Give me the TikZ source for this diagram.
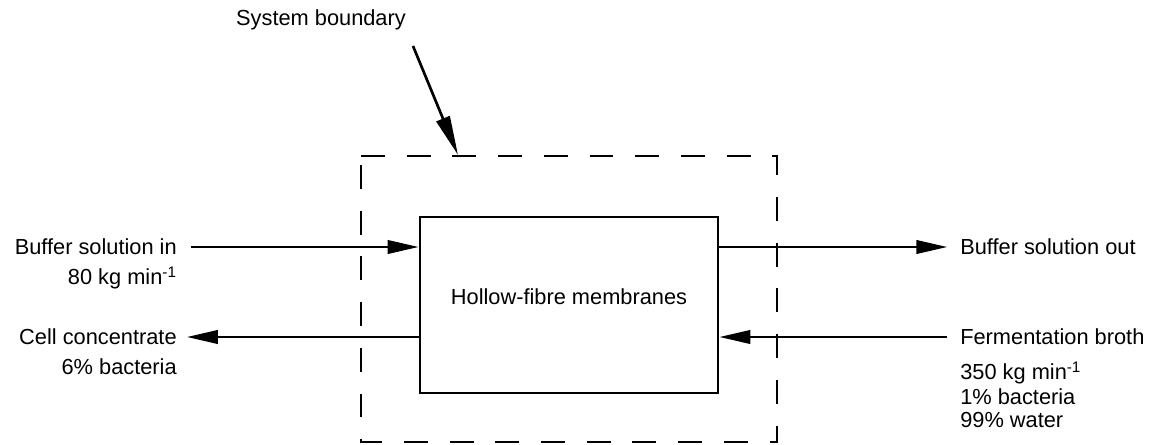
\documentclass[tikz,border=0pt]{standalone}
\usepackage{fontspec}
\setmainfont{Liberation Sans}
\usetikzlibrary{arrows.meta}
\begin{document}
\begin{tikzpicture}[x=0.025cm,y=-0.025cm,
  lbl/.style={font=\fontsize{15.5}{18}\selectfont, inner sep=0pt},
  flow/.style={line width=1.9pt, -{Triangle[length=22pt,width=9.5pt]}},
  bound/.style={line width=1.5pt, dash pattern=on 17pt off 15.5pt},
  unit/.style={draw, line width=1.9pt, minimum width=298*0.025cm, minimum height=176*0.025cm, inner sep=0pt}]
\useasboundingbox (0,0) rectangle (1161,445);
% system boundary
\draw[bound] (361,156) -- (777,156) -- (777,442) -- (361,442) -- cycle;
\coordinate (bt) at (458,155);
% unit
\node[unit] (box) at (569,305) {};
\node[lbl] (hf) at (569,297) {Hollow-fibre membranes};
% labels
\node[lbl] (sb) at (321,20) {System boundary};
\node[lbl, anchor=east] (bin) at (177,247) {Buffer solution in};
\node[lbl, anchor=east] (binr) at (177,278) {80 kg min\textsuperscript{-1}};
\node[lbl, anchor=east] (cc) at (177,337) {Cell concentrate};
\node[lbl, anchor=east] (ccr) at (177,367) {6\% bacteria};
\node[lbl, anchor=west] (bout) at (960,247) {Buffer solution out};
\node[lbl, anchor=west] (fb) at (960,337) {Fermentation broth};
\node[lbl, anchor=west] (fb1) at (960,373) {350 kg min\textsuperscript{-1}};
\node[lbl, anchor=west] (fb2) at (960,397) {1\% bacteria};
\node[lbl, anchor=west] (fb3) at (960,420) {99\% water};
% connectors
\draw[flow] ([xshift=10pt]bin.east) -- (bin.east -| box.west);
\draw[flow] (cc.east -| box.west) -- ([xshift=7pt]cc.east);
\draw[flow] (bout.west -| box.east) -- ([xshift=-9pt]bout.west);
\draw[flow] ([xshift=-9pt]fb.west) -- (fb.west -| box.east);
\draw[line width=1.9pt, -{Triangle[length=28pt,width=10pt]}] (413,46) -- (bt);
\end{tikzpicture}
\end{document}
